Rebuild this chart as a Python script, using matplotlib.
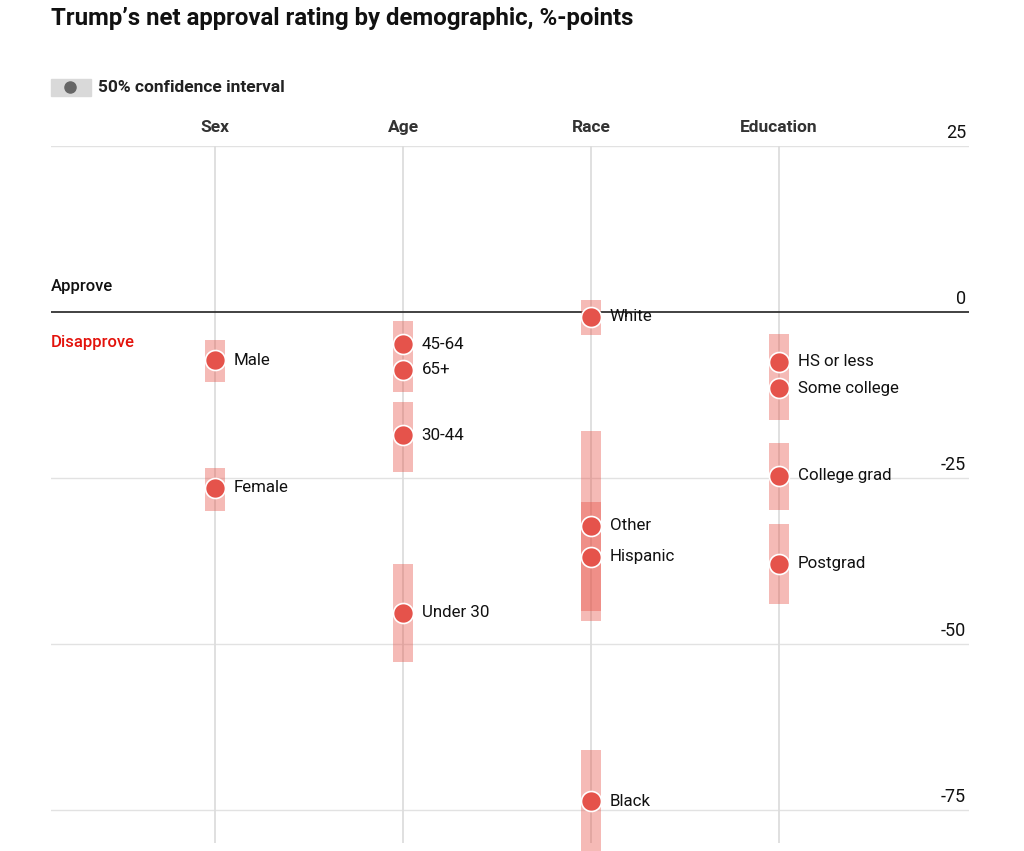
import numpy as np
import matplotlib
matplotlib.use('Agg')
import matplotlib.pyplot as plt

# ── data (net approval, %-points) ──
groups = ['Sex', 'Age', 'Race', 'Education']
labels = ['Male', 'Female',
          '45-64', '65+', '30-44', 'Under 30',
          'White', 'Other', 'Hispanic', 'Black',
          'HS or less', 'Some college', 'College grad', 'Postgrad']
group_of = [0, 0,
            1, 1, 1, 1,
            2, 2, 2, 2,
            3, 3, 3, 3]
net = [-7.3, -26.5,
       -4.9, -8.7, -18.6, -45.3,
       -0.7, -32.2, -36.9, -73.7,
       -7.5, -11.5, -24.7, -37.9]
ci_lo = [-10.5, -30.0,
         -12.0, -12.0, -24.1, -52.8,
         -3.4, -46.5, -45.0, -82.0,
         -16.2, -16.2, -29.8, -44.0]
ci_hi = [-4.2, -23.5,
         -1.4, -1.4, -13.5, -37.9,
         1.85, -18.0, -28.7, -66.0,
         -3.3, -3.3, -19.7, -31.9]
yticks = [25, 0, -25, -50, -75]

RED = '#e5534b'
W, H = 1024, 851
fig = plt.figure(figsize=(W / 100, H / 100), dpi=100)
plt.rcParams['font.family'] = ['Roboto', 'DejaVu Sans']

def fx(px):
    return px / W

def fy(py):
    return 1 - py / H

# axes: left edge 51px, right 969px, top 146px (=25), bottom 851px
ax = fig.add_axes([fx(51), 0, fx(969) - fx(51), fy(146)])
ax.set_xlim(-0.872, 4.011)
ax.set_ylim(-81.2, 25)
ax.axis('off')

for t in yticks:
    if t == 0:
        ax.axhline(0, color='#333333', lw=1.3, zorder=1)
    else:
        ax.axhline(t, color='#e2e2e2', lw=1.0, zorder=0)
    ax.text(0.997, t + 2.0, f'{t}', transform=ax.get_yaxis_transform(),
            ha='right', va='center', fontsize=13, color='#111111', clip_on=False)

for g in range(len(groups)):
    ax.plot([g, g], [25, -80], color='#dddddd', lw=1.3, zorder=0.5,
            solid_capstyle='butt')

# CI bars (identical intervals drawn once)
seen = set()
for g, lo, hi in zip(group_of, ci_lo, ci_hi):
    if (g, lo, hi) in seen:
        continue
    seen.add((g, lo, hi))
    ax.bar(g, hi - lo, bottom=lo, width=0.106, color='#e64b3f', alpha=0.38,
           lw=0, zorder=2)

ax.plot(group_of, net, 'o', ms=14.4, color=RED, mec='white', mew=1.2,
        zorder=4, clip_on=False)
for g, v, lab in zip(group_of, net, labels):
    ax.text(g + 0.1, v, lab, ha='left', va='center', fontsize=12.2,
            color='#111111', zorder=5)

# headers
for g, name in enumerate(groups):
    xp = 215 + 188 * g
    fig.text(fx(xp), fy(127), name, ha='center', va='center', fontsize=12.5,
             fontweight='bold', color='#333333')

fig.text(fx(51), fy(19), 'Trump\u2019s net approval rating by demographic, %-points',
         ha='left', va='center', fontsize=17.3, fontweight='bold',
         color='#111111')

# legend
fig.patches.append(plt.Rectangle((fx(51), fy(96)), fx(40), 17 / H,
                                 transform=fig.transFigure, color='#d9d9d9'))
fig.add_artist(plt.Line2D([fx(70)], [fy(87)], marker='o', ms=8, color='#666666',
                          transform=fig.transFigure))
fig.text(fx(98), fy(87), '50% confidence interval', ha='left', va='center',
         fontsize=12.5, fontweight='bold', color='#222222')

fig.text(fx(51), fy(286), 'Approve', ha='left', va='center', fontsize=12,
         fontweight='medium', color='#111111')
fig.text(fx(51), fy(342), 'Disapprove', ha='left', va='center', fontsize=12,
         fontweight='medium', color='#e3120b')

fig.savefig('out.png', dpi=100)
